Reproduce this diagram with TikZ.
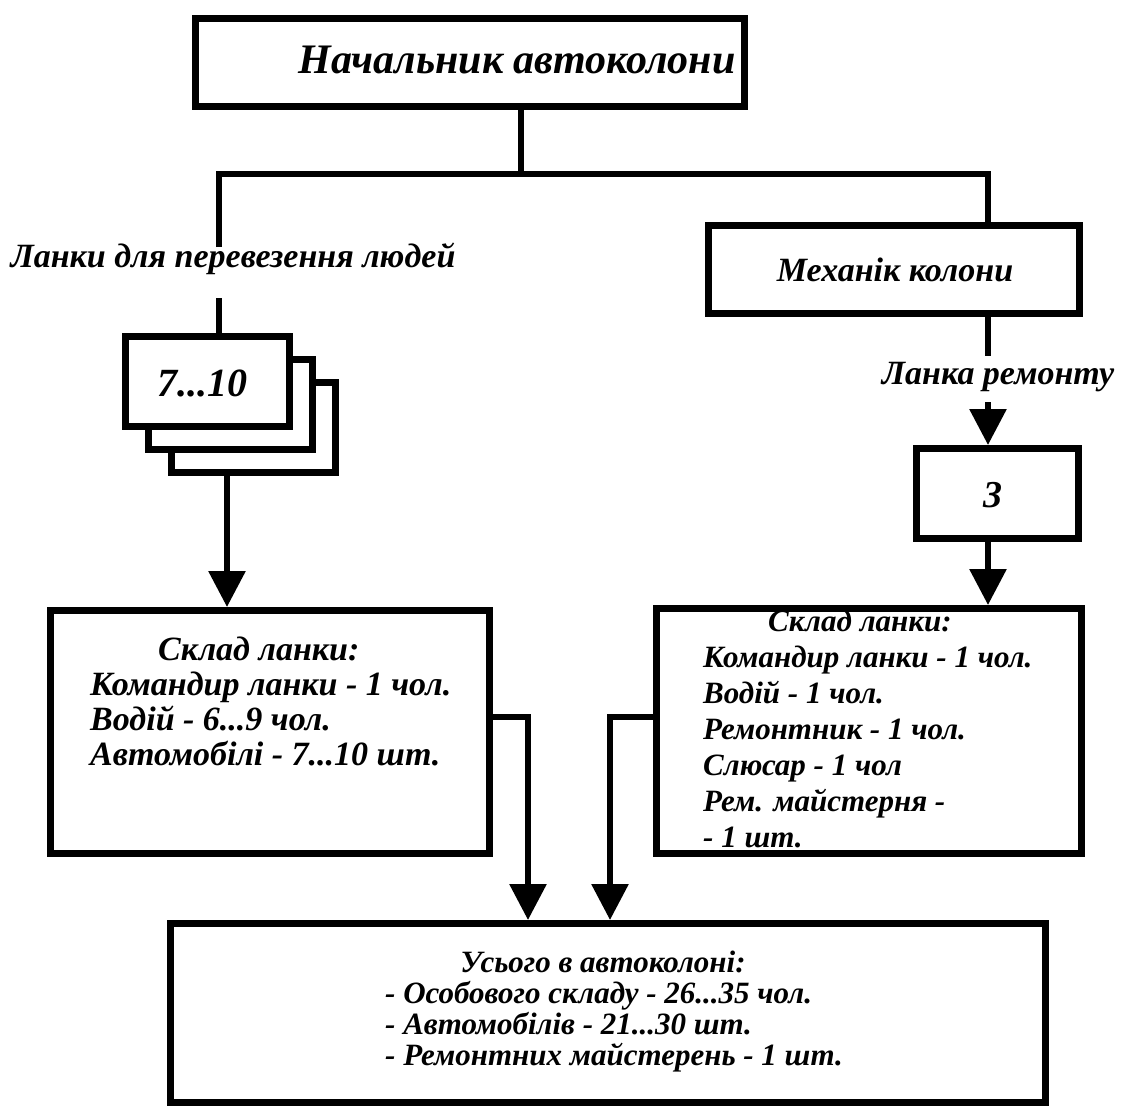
\documentclass[tikz,border=0pt]{standalone}
\usepackage{fontspec}
\setmainfont{Liberation Serif}
\usetikzlibrary{arrows.meta,calc}
\begin{document}
\begin{tikzpicture}[x=1pt,y=-1pt,
  box/.style={draw, line width=7pt, fill=white, inner sep=0pt},
  conn/.style={line width=6pt},
  arr/.style={line width=6pt, -{Triangle[width=36pt,length=36pt]}},
  tx/.style={inner sep=0pt, anchor=base west, font=\bfseries\itshape\fontsize{#1pt}{#1pt}\selectfont},
  tx/.default=34]
\fill[white] (0,0) rectangle (1122,1113);
\useasboundingbox (0,0) rectangle (1122,1113);

% boxes
\node[box, minimum width=549pt, minimum height=88pt] (chief) at (470,62.5) {};
\node[tx=42, anchor=base] (chieftext) at (517,74) {Начальник автоколони};

\node[box, minimum width=371pt, minimum height=88pt] (mech) at (894,269.5) {};
\node[tx=34, anchor=base] (mechtext) at (895,281) {Механік колони};

\node[box, minimum width=162pt, minimum height=90pt] (three) at (997.5,493.5) {};
\node[tx=38, anchor=base] (threetext) at (993,507) {3};

\node[box, minimum width=164pt, minimum height=90pt] (stackC) at (253.5,427.5) {};
\node[box, minimum width=164pt, minimum height=90pt] (stackB) at (230.5,404.5) {};
\node[box, minimum width=164pt, minimum height=90pt] (stackA) at (207.5,381.5) {};
\node[tx=40, anchor=base] (stacktext) at (202,396) {7...10};

\node[box, minimum width=439pt, minimum height=243pt] (leftbox) at (270,732) {};
\node[tx] (l1) at (158,660) {Склад ланки:};
\node[tx] (l2) at (90,695) {Командир ланки - 1 чол.};
\node[tx] (l3) at (90,730) {Водій - 6...9 чол.};
\node[tx] (l4) at (90,765) {Автомобілі - 7...10 шт.};

\node[box, minimum width=425pt, minimum height=245pt] (rightbox) at (869,731) {};
\node[tx=31] (r1) at (768,631) {Склад ланки:};
\node[tx=31] (r2) at (703,667) {Командир ланки - 1 чол.};
\node[tx=31] (r3) at (703,703) {Водій - 1 чол.};
\node[tx=31] (r4) at (703,739) {Ремонтник - 1 чол.};
\node[tx=31] (r5) at (703,775) {Слюсар - 1 чол};
\node[tx=31] (r6) at (703,811) {Рем. майстерня -};
\node[tx=31] (r7) at (703,847) {- 1 шт.};

\node[box, minimum width=875pt, minimum height=179pt] (total) at (608,1013) {};
\node[tx=31, anchor=base] (t1) at (603,972) {Усього в автоколоні:};
\node[tx=31] (t2) at (385,1003) {- Особового складу - 26...35 чол.};
\node[tx=31] (t3) at (385,1034) {- Автомобілів - 21...30 шт.};
\node[tx=31] (t4) at (385,1065) {- Ремонтних майстерень - 1 шт.};

% labels
\node[tx=34, anchor=base] (lbl1) at (233,267) {Ланки для перевезення людей};
\node[tx=34, anchor=base] (lbl2) at (998,384) {Ланка ремонту};

% junction coordinates
\coordinate (j) at (521,174);
\coordinate (lx) at (219,0);
\coordinate (mx) at (988,0);
\coordinate (ax) at (227,0);
\coordinate (cl) at (528,717);
\coordinate (cr) at (610,717);

% connectors
\draw[conn] (chief.south -| j) -- (j);
\draw[conn] ($(lx |- lbl1.base)+(0,-20)$) |- (j);
\draw[conn] (j) -| (mx |- mech.north);
\draw[conn] ($(lx |- lbl1.base)+(0,31)$) -- (lx |- stackA.north);
\draw[arr] (ax |- stackC.south) -- (ax |- leftbox.north);
\draw[conn] (mx |- mech.south) -- ($(mx |- lbl2.base)+(0,-28)$);
\draw[arr] ($(mx |- lbl2.base)+(0,18)$) -- (mx |- three.north);
\draw[arr] (mx |- three.south) -- (mx |- rightbox.north);
\draw[arr] (leftbox.east |- cl) -| (cl |- total.north);
\draw[arr] (rightbox.west |- cr) -| (cr |- total.north);
\end{tikzpicture}
\end{document}
